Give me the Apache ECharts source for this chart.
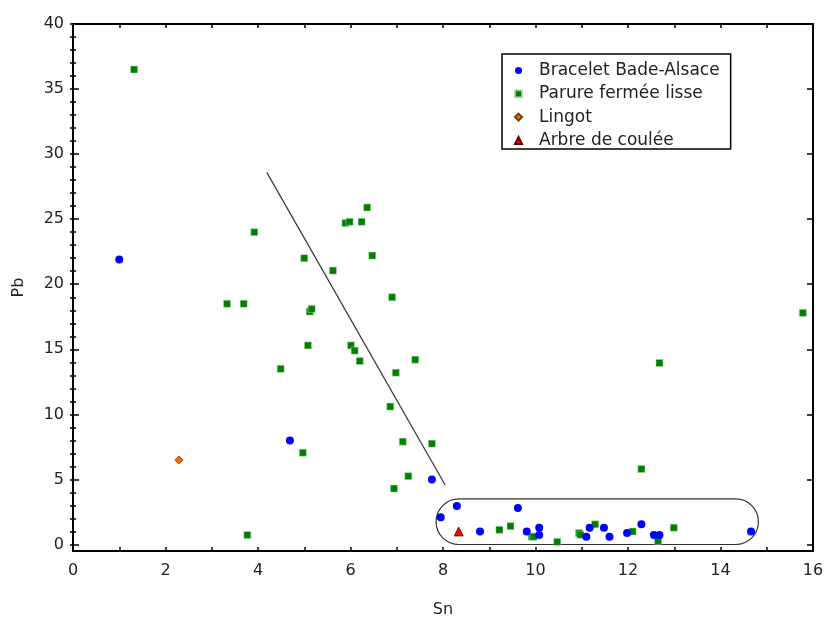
<!DOCTYPE html>
<html>
<head>
<meta charset="utf-8">
<title>Pb vs Sn</title>
<script src="https://cdn.jsdelivr.net/npm/echarts@6/dist/echarts.min.js"></script>
<style>
  html, body { margin: 0; padding: 0; background: #fff; }
  #chart { width: 824px; height: 619px; }
</style>
</head>
<body>
<div id="chart"></div>
<script>
// Sn (x) / Pb (y) compositions by group
const seriesNames = ['Bracelet Bade-Alsace', 'Parure fermée lisse', 'Lingot', 'Arbre de coulée'];

const braceletBadeAlsace = [
  [1.0, 21.9], [4.69, 8.0], [7.76, 5.0], [7.95, 2.1], [8.3, 2.95], [8.8, 1.0],
  [9.62, 2.8], [9.81, 1.0], [10.08, 1.29], [10.08, 0.73], [11.1, 0.6], [11.17, 1.29],
  [11.48, 1.29], [11.6, 0.6], [11.98, 0.88], [12.29, 1.55], [12.56, 0.73], [12.68, 0.73],
  [14.66, 1.0]
];

const parureFermeeLisse = [
  [1.32, 36.5], [3.92, 24.0], [5.0, 22.0], [5.62, 21.05], [5.89, 24.7], [5.98, 24.8],
  [6.24, 24.8], [6.36, 25.9], [6.47, 22.2], [6.9, 19.0], [5.12, 17.9], [5.16, 18.1],
  [5.08, 15.3], [6.01, 15.3], [6.09, 14.9], [6.2, 14.1], [4.49, 13.5], [7.4, 14.2],
  [6.98, 13.2], [3.33, 18.5], [3.69, 18.5], [12.68, 13.95], [15.78, 17.8], [12.29, 5.8],
  [3.77, 0.73], [4.97, 7.05], [6.86, 10.6], [7.13, 7.9], [7.76, 7.75], [7.25, 5.25],
  [6.94, 4.3], [9.22, 1.13], [9.46, 1.41], [9.92, 0.6], [9.96, 0.6], [10.47, 0.2],
  [10.94, 0.88], [10.97, 0.75], [11.29, 1.55], [12.1, 1.0], [12.65, 0.28], [12.99, 1.29]
];

const lingot = [[2.29, 6.5]];
const arbreDeCoulee = [[8.34, 1.0]];

// Separating line and the rounded group outline (data coordinates)
const separatorLine = [[4.19, 28.6], [8.05, 4.55]];
const groupOutline = [[7.85, 0.0, 14.82, 3.5]];

// Axis ticks
const yMajorTicks = [0, 5, 10, 15, 20, 25, 30, 35, 40];
const yMinorTicks = Array.from({ length: 41 }, (_, i) => i);

const FONT = 'DejaVu Sans';
const chart = echarts.init(document.getElementById('chart'), null, { renderer: 'canvas' });

const frameLine = { show: true, onZero: false, lineStyle: { color: '#000', width: 2 } };

function xAxisDef(position, withLabels) {
  return {
    type: 'value', position: position, min: 0, max: 16, interval: 1,
    axisLine: frameLine,
    axisTick: { show: true, inside: true, length: 4, lineStyle: { color: '#000', width: 1.5 } },
    axisLabel: withLabels ? {
      show: true, margin: 12, fontFamily: FONT, fontSize: 16, color: '#222',
      formatter: v => (v % 2 === 0 ? String(v) : '')
    } : { show: false },
    splitLine: { show: false },
    name: withLabels ? 'Sn' : '', nameLocation: 'middle', nameGap: 51,
    nameTextStyle: { fontFamily: FONT, fontSize: 16, color: '#222' }
  };
}

function yAxisDef(position, ticks, tickLen, withLabels, showLine) {
  return {
    type: 'value', position: position, min: -0.5, max: 40,
    axisLine: showLine ? frameLine : { show: false },
    axisTick: { show: true, inside: true, length: tickLen, customValues: ticks,
                lineStyle: { color: '#000', width: 1.5 } },
    axisLabel: withLabels ? {
      show: true, margin: 9, fontFamily: FONT, fontSize: 16, color: '#222',
      customValues: yMajorTicks
    } : { show: false },
    splitLine: { show: false },
    name: withLabels ? 'Pb' : '', nameLocation: 'middle', nameGap: 46,
    nameTextStyle: { fontFamily: FONT, fontSize: 16, color: '#222' }
  };
}

const option = {
  backgroundColor: '#fff',
  animation: false,
  grid: { left: 73, right: 11, top: 24, bottom: 68, containLabel: false, outerBoundsMode: 'none' },
  xAxis: [xAxisDef('bottom', true), xAxisDef('top', false)],
  yAxis: [
    yAxisDef('left', yMajorTicks, 6, true, true),
    yAxisDef('right', yMajorTicks, 6, false, true),
    yAxisDef('left', yMinorTicks, 3, false, false),
    yAxisDef('right', yMinorTicks, 3, false, false)
  ],
  legend: {
    orient: 'vertical', left: 502, top: 54,
    data: seriesNames,
    itemWidth: 7, itemHeight: 7, itemGap: 6.3,
    padding: [8, 11, 0, 12],
    borderColor: '#000', borderWidth: 1.5,
    textStyle: { fontFamily: FONT, fontSize: 17, color: '#222', lineHeight: 17, padding: [0, 0, 0, 12] }
  },
  series: [
    {
      name: 'separator', type: 'line', data: separatorLine, symbol: 'none',
      lineStyle: { color: '#333', width: 1.2 }, silent: true, z: 1
    },
    {
      name: 'group', type: 'custom', data: groupOutline, silent: true, z: 1,
      encode: { x: [0, 2], y: [1, 3] },
      renderItem: function (params, api) {
        const p0 = api.coord([api.value(0), api.value(3)]);
        const p1 = api.coord([api.value(2), api.value(1)]);
        const h = p1[1] - p0[1];
        return {
          type: 'rect',
          shape: { x: p0[0], y: p0[1], width: p1[0] - p0[0], height: h, r: h / 2 },
          style: { fill: 'none', stroke: '#333', lineWidth: 1.2 }
        };
      }
    },
    {
      name: seriesNames[1], type: 'scatter', data: parureFermeeLisse,
      symbol: 'rect', symbolSize: 7,
      itemStyle: { color: '#007f00', opacity: 1, borderColor: 'rgba(170,220,170,0.8)', borderWidth: 0.6 }, z: 3
    },
    {
      name: seriesNames[0], type: 'scatter', data: braceletBadeAlsace,
      symbol: 'circle', symbolSize: 8,
      itemStyle: { color: '#0000ff', opacity: 1 }, z: 4
    },
    {
      name: seriesNames[2], type: 'scatter', data: lingot,
      symbol: 'diamond', symbolSize: 8,
      itemStyle: { color: '#ff6600', opacity: 1, borderColor: '#7a3a00', borderWidth: 0.8 }, z: 4
    },
    {
      name: seriesNames[3], type: 'scatter', data: arbreDeCoulee,
      symbol: 'triangle', symbolSize: 9,
      itemStyle: { color: '#ff0000', opacity: 1, borderColor: '#600000', borderWidth: 0.8 }, z: 4
    }
  ]
};

chart.setOption(option);
</script>
</body>
</html>
